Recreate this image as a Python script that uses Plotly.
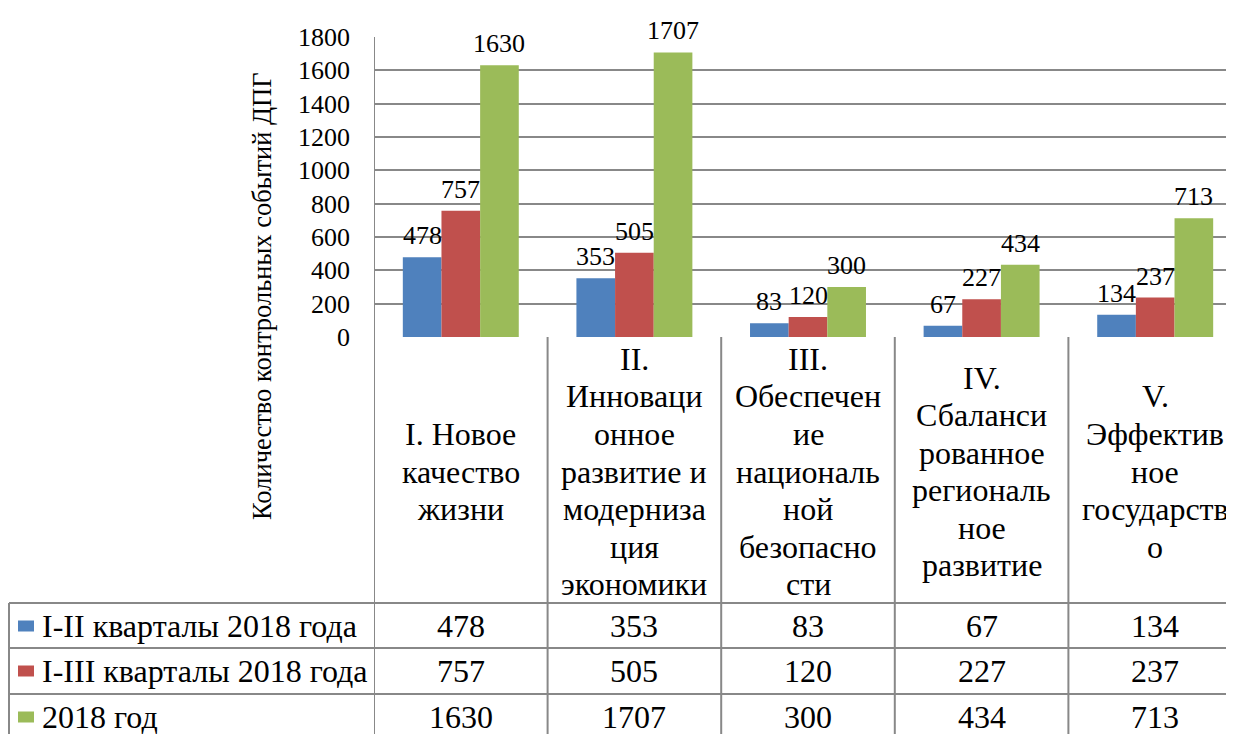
import plotly.graph_objects as go

categories = [
    "I. Новое<br>качество<br>жизни",
    "II.<br>Инноваци<br>онное<br>развитие и<br>модерниза<br>ция<br>экономики",
    "III.<br>Обеспечен<br>ие<br>националь<br>ной<br>безопасно<br>сти",
    "IV.<br>Сбаланси<br>рованное<br>региональ<br>ное<br>развитие",
    "V.<br>Эффектив<br>ное<br>государств<br>о",
]
series_names = ["I-II кварталы 2018 года", "I-III кварталы 2018 года", "2018 год"]
s1 = [478, 353, 83, 67, 134]
s2 = [757, 505, 120, 227, 237]
s3 = [1630, 1707, 300, 434, 713]
series_values = [s1, s2, s3]
colors = ["#4F81BD", "#C0504D", "#9BBB59"]
y_ticks = [0, 200, 400, 600, 800, 1000, 1200, 1400, 1600, 1800]
y_title = "Количество контрольных событий ДПГ"

W, H = 1234, 734
OFF = 8  # page body margin
FONT = "'Liberation Serif', 'Times New Roman', 'DejaVu Serif', serif"
GRID = "#888888"
BARGAP = 0.332

def px(X):
    return (X - OFF) / W

def py(Y):
    return 1 - (Y - OFF) / H

x_idx = list(range(len(categories)))
nser = len(series_values)
bw = (1 - BARGAP) / nser

fig = go.Figure()
annotations = []
for k, (name, vals, col) in enumerate(zip(series_names, series_values, colors)):
    fig.add_trace(go.Bar(
        x=x_idx, y=vals, name=name, marker=dict(color=col, line=dict(width=0)),
        showlegend=False,
    ))
    off = (k - (nser - 1) / 2) * bw
    for i, v in enumerate(vals):
        annotations.append(dict(x=i + off, xref="x", y=v, yref="y", text=str(v),
                                showarrow=False, xanchor="center", yanchor="bottom",
                                yshift=5, font=dict(family=FONT, size=26, color="black")))

shapes = []
shapes.append(dict(type="line", xref="x", yref="paper", x0=-0.5, x1=-0.5, y0=0, y1=py(37),
                   line=dict(color=GRID, width=2)))
for i in range(len(categories) - 1):
    shapes.append(dict(type="line", xref="x", yref="paper", x0=i + 0.5, x1=i + 0.5,
                       y0=0, y1=py(337), line=dict(color=GRID, width=2)))
shapes.append(dict(type="line", xref="paper", yref="paper", x0=px(9), x1=px(9),
                   y0=0, y1=py(603), line=dict(color=GRID, width=2)))
row_lines = [603, 648, 694]
for yy in row_lines:
    shapes.append(dict(type="line", xref="paper", yref="paper", x0=px(9), x1=1,
                       y0=py(yy), y1=py(yy), line=dict(color=GRID, width=2)))

LINE_H = 37.5
for i, c in enumerate(categories):
    lines = c.split("<br>")
    y0 = 471.5 - (len(lines) - 1) * LINE_H / 2
    for k, ln in enumerate(lines):
        annotations.append(dict(x=i, xref="x", y=py(y0 + k * LINE_H), yref="paper", text=ln,
                                showarrow=False, xanchor="center", yanchor="middle",
                                font=dict(family=FONT, size=32, color="black")))
row_centers = [626, 671, 717]
for r, (name, vals, col) in enumerate(zip(series_names, series_values, colors)):
    yc = row_centers[r]
    shapes.append(dict(type="rect", xref="paper", yref="paper", x0=px(18), x1=px(34),
                       y0=py(yc + 5.5), y1=py(yc - 5.5), fillcolor=col, line=dict(width=0)))
    annotations.append(dict(x=px(40), xref="paper", y=py(yc), yref="paper", text=name,
                            showarrow=False, xanchor="left", yanchor="middle",
                            font=dict(family=FONT, size=32, color="black")))
    for i, v in enumerate(vals):
        annotations.append(dict(x=i, xref="x", y=py(yc), yref="paper", text=str(v),
                                showarrow=False, xanchor="center", yanchor="middle",
                                font=dict(family=FONT, size=32, color="black")))
annotations.append(dict(x=px(262), xref="paper", y=py(296), yref="paper", text=y_title,
                        showarrow=False, textangle=-90, xanchor="center", yanchor="middle",
                        font=dict(family=FONT, size=26.5, color="black")))

fig.update_layout(
    width=W, height=H, autosize=False,
    margin=dict(l=0, r=0, t=0, b=0, pad=0, autoexpand=False),
    paper_bgcolor="white", plot_bgcolor="white",
    font=dict(family=FONT),
    barmode="group", bargap=BARGAP, bargroupgap=0,
    shapes=shapes, annotations=annotations,
    xaxis=dict(domain=[px(374), 1], range=[-0.5, 4.5], showticklabels=False,
               showgrid=False, zeroline=False, showline=False, fixedrange=True,
               automargin=False),
    yaxis=dict(domain=[py(337), py(37)], range=[0, 1800], tickvals=y_ticks,
               showgrid=True, gridcolor=GRID, gridwidth=2, zeroline=False,
               showline=False, ticks="", ticklabelstandoff=23, automargin=False,
               tickfont=dict(family=FONT, size=26, color="black"), fixedrange=True),
)

fig.write_html("out.html")
